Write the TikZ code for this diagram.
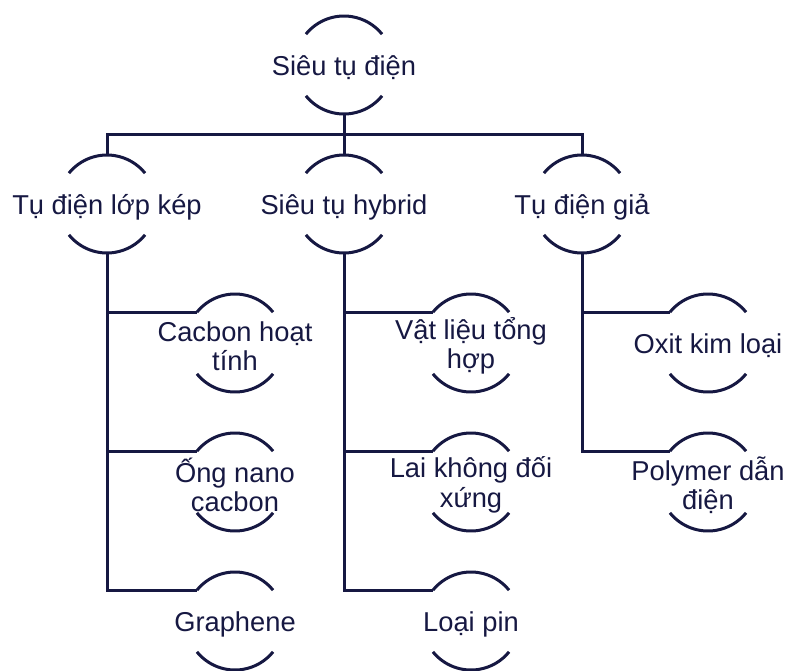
\documentclass[tikz,border=0pt]{standalone}
\usepackage{fontspec}
\setmainfont{Liberation Sans}
\usepackage{xcolor}
\usetikzlibrary{positioning}
\definecolor{navy}{HTML}{161842}

\begin{document}
\begin{tikzpicture}[
    x=1pt, y=1pt,
    font=\fontsize{27.3}{29.5}\selectfont,
    cap/.style={circle, minimum size=98pt, inner sep=0pt, outer sep=0pt,
                label={[align=center, text=navy, yshift=-3pt]center:#1}},
    wire/.style={draw=navy, line width=3pt},
]
\useasboundingbox (0,0) rectangle (785,-670);

\node[cap={Siêu tụ điện}] (root) at (344,-65) {};

\node[cap={Tụ điện lớp kép}] (edlc) at (107,-204) {};
\node[cap={Siêu tụ hybrid}] (hybrid) at (344,-204) {};
\node[cap={Tụ điện giả}] (pseudo) at (582,-204) {};

\node[cap={Cacbon hoạt\\tính}] (ac) at (235,-343) {};
\node[cap={Ống nano\\cacbon}] (cnt) at (235,-482) {};
\node[cap={Graphene}] (graphene) at (235,-621) {};

\node[cap={Vật liệu tổng\\hợp}] (composite) at (471,-343) {};
\node[cap={Lai không đối\\xứng}] (asym) at (471,-482) {};
\node[cap={Loại pin}] (battery) at (471,-621) {};

\node[cap={Oxit kim loại}] (oxide) at (708,-343) {};
\node[cap={Polymer dẫn\\điện}] (polymer) at (708,-482) {};

% arcs above and below each label
\foreach \n in {root,edlc,hybrid,pseudo,ac,cnt,graphene,composite,asym,battery,oxide,polymer} {
    \draw[wire] (\n.141) arc[start angle=141, end angle=39, radius=49pt];
    \draw[wire] (\n.219) arc[start angle=219, end angle=321, radius=49pt];
}

\draw[wire] (root.south) -- ++(0,-20) coordinate (bus);
\draw[wire] (edlc.north) |- (bus) -| (pseudo.north);
\draw[wire] (bus) -- (hybrid.north);

\foreach \p/\c in {edlc/ac, edlc/cnt, edlc/graphene,
                   hybrid/composite, hybrid/asym, hybrid/battery,
                   pseudo/oxide, pseudo/polymer}
    \draw[wire] (\p.south) |- (\c.141);

\end{tikzpicture}
\end{document}
